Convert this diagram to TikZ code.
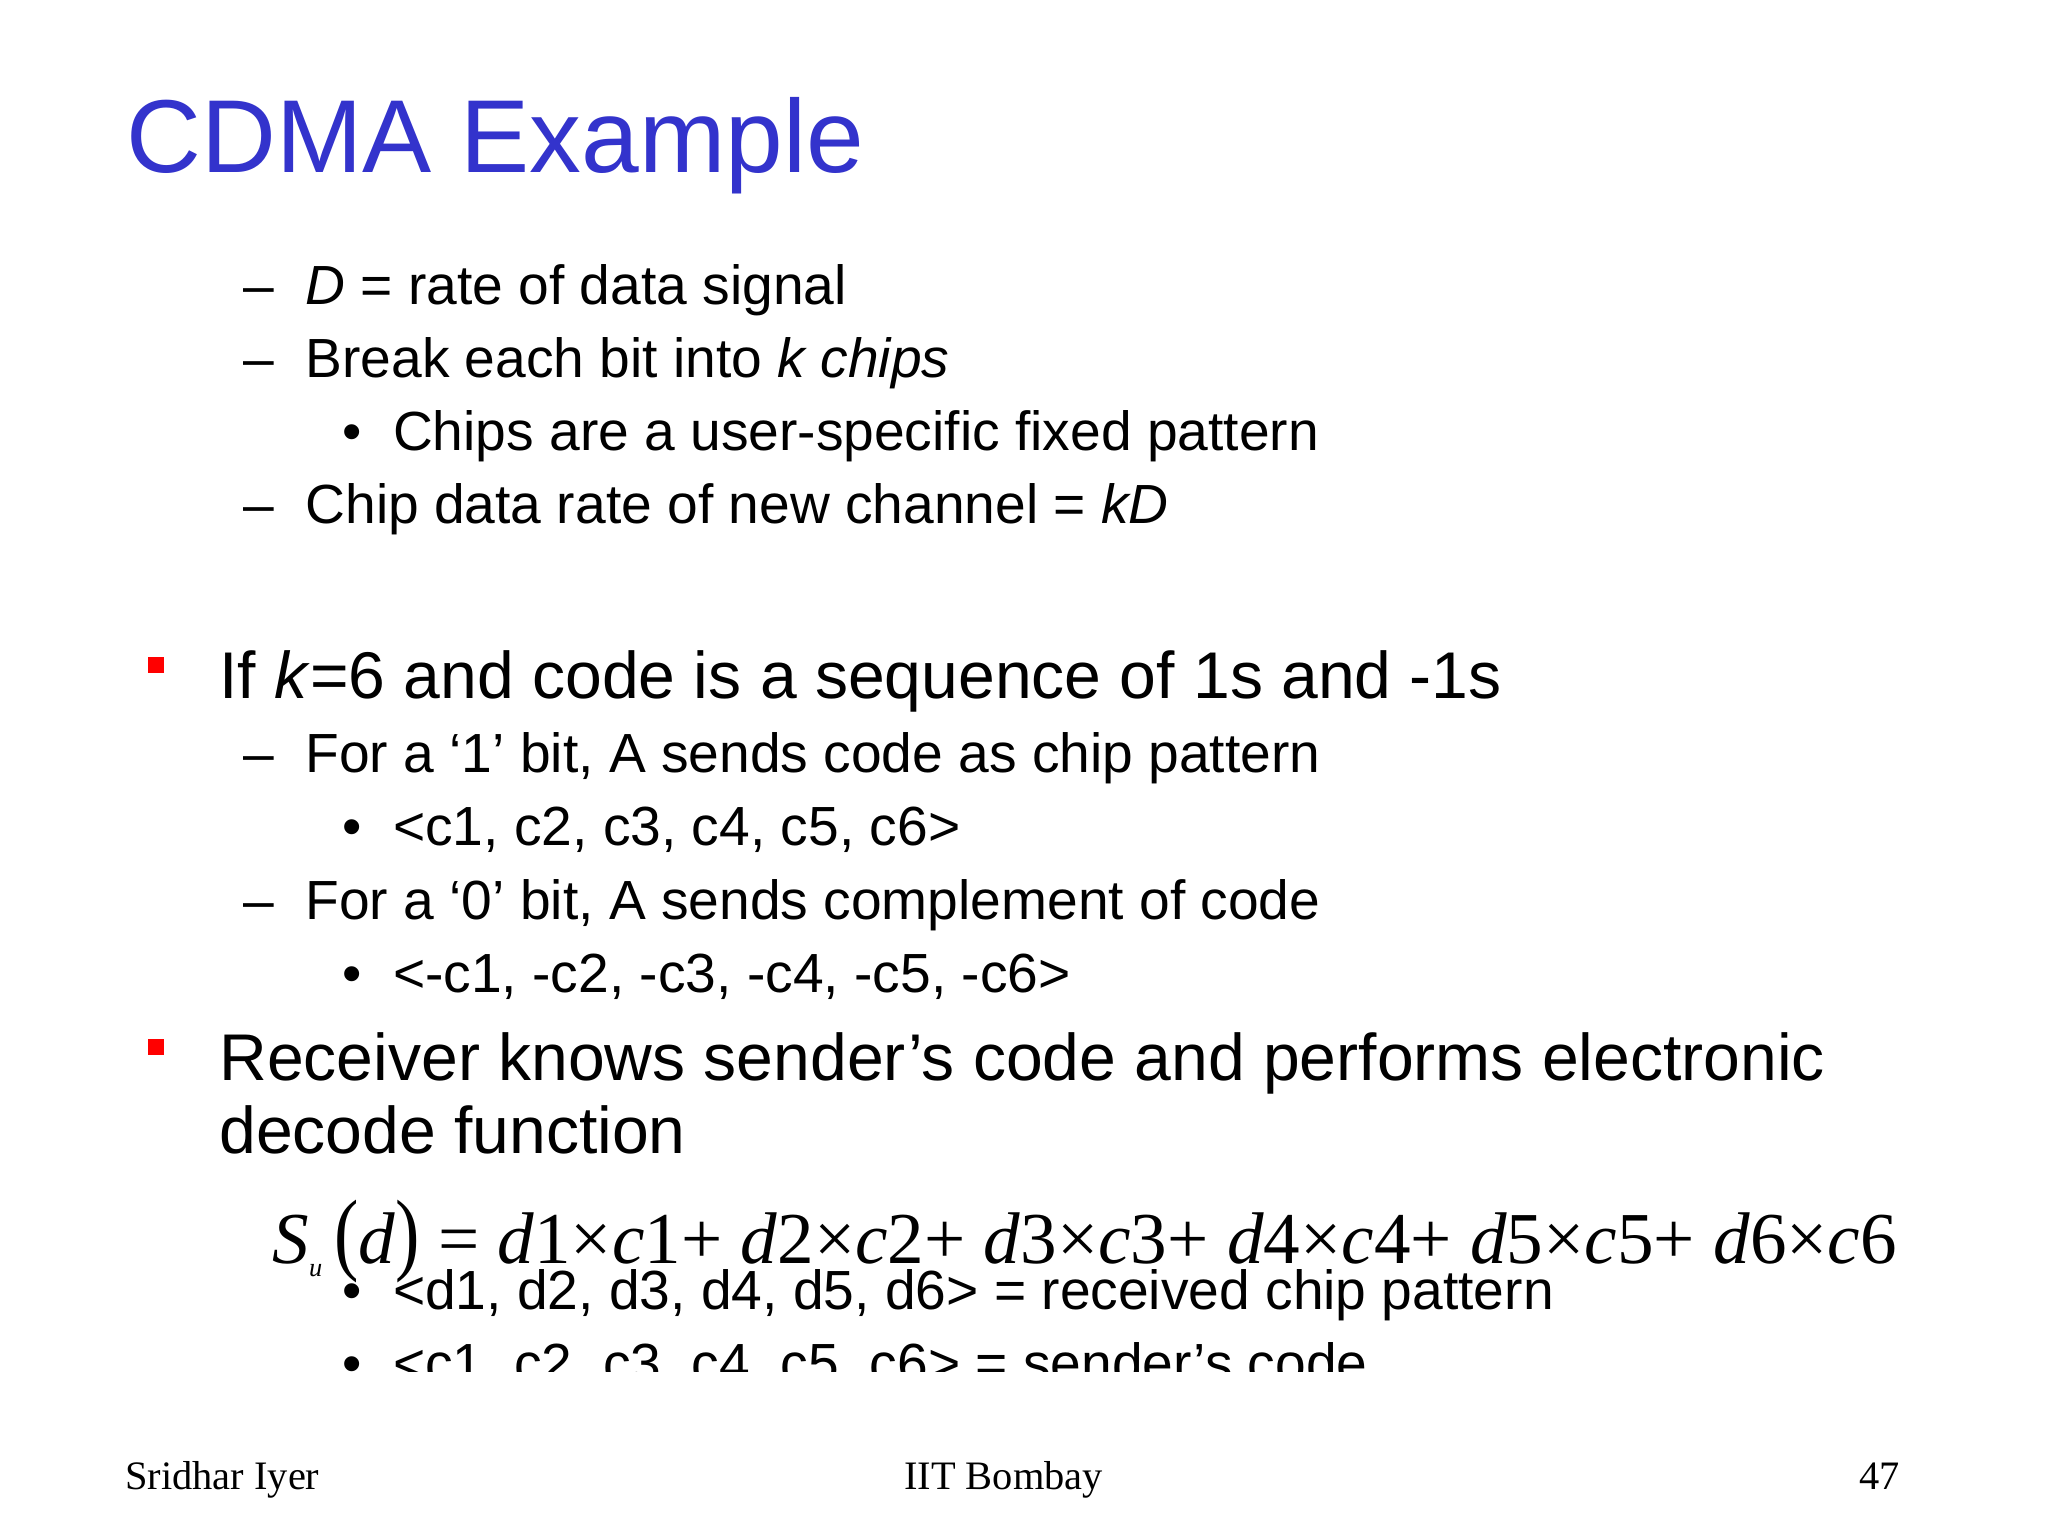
\documentclass[tikz,border=0pt]{standalone}
\usepackage{fontspec}
\setmainfont{Liberation Serif}
\newfontfamily\arialf{Liberation Sans}
\begin{document}
\begin{tikzpicture}[x=0.013256cm,y=-0.013256cm,
  t/.style={anchor=base west,inner sep=0pt,font=\arialf\fontsize{15.7}{19}\selectfont},
  t1/.style={anchor=base west,inner sep=0pt,font=\arialf\fontsize{18.8}{23}\selectfont},
  ft/.style={anchor=base,inner sep=0pt,font=\fontsize{11.5}{14}\selectfont}]
\useasboundingbox[fill=white] (0,0) rectangle (1545,1158.7);
\definecolor{titleblue}{RGB}{51,51,204}
\node[anchor=base west,inner sep=0pt,text=titleblue,font=\arialf\fontsize{29.5}{36}\selectfont] (title) at (95,130) {CDMA Example};
\node[t] (d1) at (183,230) {–}; \node[t] (l1) at (230,230) {\textit{D} = rate of data signal};
\node[t] (d2) at (183,285) {–}; \node[t] (l2) at (230,285) {Break each bit into \textit{k chips}};
\node[t] (b3) at (258,340) {•}; \node[t] (l3) at (296,340) {Chips are a user-specific fixed pattern};
\node[t] (d4) at (183,395) {–}; \node[t] (l4) at (230,395) {Chip data rate of new channel = \textit{kD}};
\fill[red] (112,496) rectangle (124,508);
\node[t1] (l5) at (165,527) {If \textit{k}=6 and code is a sequence of 1s and -1s};
\node[t] (d6) at (183,583) {–}; \node[t] (l6) at (230,583) {For a ‘1’ bit, A sends code as chip pattern};
\node[t] (b7) at (258,638) {•}; \node[t] (l7) at (296,638) {<c1, c2, c3, c4, c5, c6>};
\node[t] (d8) at (183,694) {–}; \node[t] (l8) at (230,694) {For a ‘0’ bit, A sends complement of code};
\node[t] (b9) at (258,749) {•}; \node[t] (l9) at (296,749) {<-c1, -c2, -c3, -c4, -c5, -c6>};
\fill[red] (112,784) rectangle (124,796);
\node[t1] (l10) at (165,815) {Receiver knows sender’s code and performs electronic};
\node[t1] (l11) at (165,870) {decode function};
\node[anchor=base west,inner sep=0pt,font=\fontsize{25}{30}\selectfont] (eq) at (205,953)
 {\resizebox{16.25cm}{!}{\textit{S}\raisebox{-0.4ex}{\small\textit{u}}\,\scalebox{1}[1.25]{(}\textit{d}\scalebox{1}[1.25]{)} = \textit{d}1×\textit{c}1+ \textit{d}2×\textit{c}2+ \textit{d}3×\textit{c}3+ \textit{d}4×\textit{c}4+ \textit{d}5×\textit{c}5+ \textit{d}6×\textit{c}6}};
\node[t] (b12) at (258,988) {•}; \node[t] (l12) at (296,988) {<d1, d2, d3, d4, d5, d6> = received chip pattern};
\begin{scope}
\clip (0,0) rectangle (1545,1035);
\node[t] (b13) at (258,1043) {•}; \node[t] (l13) at (296,1043) {<c1, c2, c3, c4, c5, c6> = sender’s code};
\end{scope}
\node[ft,anchor=base west] (f1) at (94,1124) {Sridhar Iyer};
\node[ft] (f2) at (757,1124) {IIT Bombay};
\node[ft,anchor=base east] (f3) at (1434,1124) {47};
\end{tikzpicture}
\end{document}
